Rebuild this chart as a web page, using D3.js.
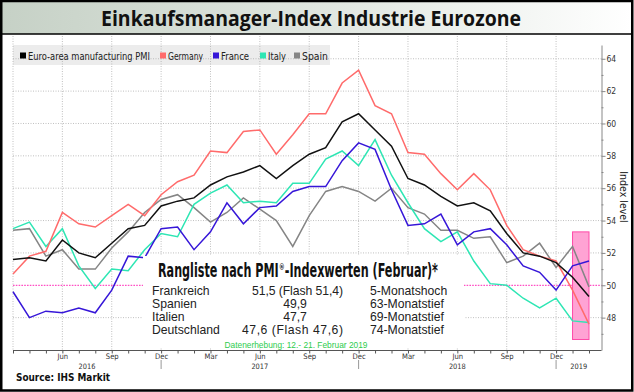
<!DOCTYPE html>
<html><head><meta charset="utf-8">
<script src="https://cdn.jsdelivr.net/npm/d3@7"></script>
<style>body{margin:0;background:#fff}svg{display:block}</style>
</head><body><svg id="c" width="634" height="392"></svg>
<script>
// ---------- DATA ----------
const months = ["2016-03","2016-04","2016-05","2016-06","2016-07","2016-08","2016-09","2016-10","2016-11","2016-12",
"2017-01","2017-02","2017-03","2017-04","2017-05","2017-06","2017-07","2017-08","2017-09","2017-10","2017-11","2017-12",
"2018-01","2018-02","2018-03","2018-04","2018-05","2018-06","2018-07","2018-08","2018-09","2018-10","2018-11","2018-12",
"2019-01","2019-02"];
const seriesNames = ["Euro-area manufacturing PMI","Germany","France","Italy","Spain"];
const euroArea = [51.6,51.7,51.5,52.8,52.0,51.7,52.6,53.5,53.7,54.9,55.2,55.4,56.2,56.7,57.0,57.4,56.6,57.4,58.1,58.5,60.1,60.6,59.6,58.6,56.6,56.2,55.5,54.9,55.1,54.6,53.2,52.0,51.8,51.4,50.5,49.3];
const germany  = [50.7,51.8,52.1,54.5,53.8,53.6,54.3,55.0,54.3,55.6,56.4,56.8,58.3,58.2,59.5,59.6,58.1,59.3,60.6,60.6,62.5,63.3,61.1,60.6,58.2,58.1,56.9,55.9,56.9,55.9,53.7,52.2,51.8,51.5,49.7,47.6];
const france   = [49.6,48.0,48.4,48.3,48.6,48.3,49.7,51.8,51.7,53.5,53.6,52.2,53.3,55.1,53.8,54.8,54.9,55.8,56.1,56.1,57.7,58.8,58.4,55.9,53.7,53.8,54.4,52.5,53.3,53.5,52.5,51.2,50.8,49.7,51.2,51.5];
const italy    = [53.5,53.9,52.4,53.5,51.2,49.8,51.0,50.9,52.2,53.2,53.0,55.0,55.7,56.2,55.1,55.2,55.1,56.3,56.3,57.8,58.3,57.4,59.0,56.8,55.1,53.5,52.7,53.3,51.5,50.1,50.0,49.2,48.6,49.2,47.8,47.7];
const spain    = [53.4,53.5,51.8,52.2,51.0,51.0,52.3,53.3,54.5,55.3,55.6,54.8,53.9,54.5,55.4,54.7,54.0,52.4,54.3,55.8,56.1,55.8,55.2,56.0,54.8,54.4,53.4,53.4,52.9,53.0,51.4,51.8,52.6,51.1,52.4,49.9];
const tickMonths = ["2016-06","2016-09","2016-12","2017-03","2017-06","2017-09","2017-12","2018-03","2018-06","2018-09","2018-12"];
const tickLabels = ["Jun","Sep","Dec","Mar","Jun","Sep","Dec","Mar","Jun","Sep","Dec"];
const yearLabels = ["2016","2017","2018","2019"];
const yTicks = [48,50,52,54,56,58,60,62,64];
const rankCountries = ["Frankreich","Spanien","Italien","Deutschland"];
const rankValues = ["51,5 (Flash 51,4)","49,9","47,7","47,6 (Flash 47,6)"];
const rankNotes = ["5-Monatshoch","63-Monatstief","69-Monatstief","74-Monatstief"];

// ---------- STYLE ----------
const colors = ["#111111","#ff6b6b","#3616d8","#2ee6b4","#858585"];
const seriesData = [euroArea, germany, france, italy, spain];
const narrow = "'Liberation Sans Narrow','DejaVu Sans Condensed','Roboto',sans-serif";

const svg = d3.select("#c");
const L = 13, R = 601.5, B = 350.5;
const x = d3.scalePoint().domain(months).range([13, 589]);
const y = d3.scaleLinear().domain([46, 64.85]).range([350, 45]);

// title band
const defs = svg.append("defs");
const g = defs.append("linearGradient").attr("id","tg").attr("x1","0").attr("x2","1");
g.append("stop").attr("offset","0").attr("stop-color","#c6d1c6");
g.append("stop").attr("offset","0.55").attr("stop-color","#e2e8e2");
g.append("stop").attr("offset","1").attr("stop-color","#ffffff");
svg.append("rect").attr("x",1).attr("y",1).attr("width",631).attr("height",33).attr("fill","url(#tg)");
svg.append("line").attr("x1",1).attr("x2",632).attr("y1",34).attr("y2",34).attr("stroke","#000").attr("stroke-width",1.5);
svg.append("text").attr("x",311).attr("y",26).attr("text-anchor","middle")
  .attr("font-family","'Open Sans',sans-serif").attr("font-weight","bold").attr("font-size",21)
  .attr("textLength",420).attr("lengthAdjust","spacingAndGlyphs").attr("fill","#111")
  .text("Einkaufsmanager-Index Industrie Eurozone");

// legend background
svg.append("rect").attr("x",13).attr("y",45).attr("width",317).attr("height",20).attr("fill","#ececec");

// gridlines
const grid = svg.append("g").attr("stroke","#b0b0b0").attr("stroke-width",0.8).attr("stroke-dasharray","1,1.5");
grid.selectAll(".h").data(yTicks.filter(d=>d!==50)).join("line")
  .attr("x1",L).attr("x2",R).attr("y1",d=>y(d)).attr("y2",d=>y(d));
const vMonths = ["2016-03"].concat(tickMonths);
grid.selectAll(".v").data(vMonths).join("line")
  .attr("x1",d=>x(d)).attr("x2",d=>x(d)).attr("y1",36).attr("y2",B);

// pink 50 line
svg.append("line").attr("x1",L).attr("x2",R).attr("y1",y(50)).attr("y2",y(50))
  .attr("stroke","#ff4fc4").attr("stroke-width",1.2).attr("stroke-dasharray","1.6,1.2");

// highlight box
svg.append("rect").attr("x",x("2019-01")).attr("y",y(53.3))
  .attr("width",x("2019-02")-x("2019-01")).attr("height",y(46.65)-y(53.3))
  .attr("fill","#ffa3d4").attr("stroke","#ff4aa8").attr("stroke-width",1);

// lines
const line = d3.line().x((d,i)=>x(months[i])).y(d=>y(d));
[4,3,1,2,0].forEach(k=>{
  svg.append("path").datum(seriesData[k]).attr("d",line).attr("fill","none")
    .attr("stroke",colors[k]).attr("stroke-width",1.5).attr("stroke-linejoin","miter");
});

// legend
const legX = [20,160,213,260,294];
const legW = [122,35,28,18,26];
seriesNames.forEach((n,i)=>{
  svg.append("rect").attr("x",legX[i]).attr("y",52.5).attr("width",6).attr("height",6).attr("fill",colors[i]==="#111111"?"#000":colors[i]);
  svg.append("text").attr("x",legX[i]+8).attr("y",59.5).attr("font-family",narrow).attr("font-size",10.5)
    .attr("textLength",legW[i]).attr("lengthAdjust","spacingAndGlyphs").attr("fill","#222").text(n);
});

// text box
svg.append("rect").attr("x",143).attr("y",256).attr("width",321).attr("height",92).attr("fill","#fff");
const hg = svg.append("g");
const hs = {"font-family":narrow,"font-weight":"bold","fill":"#111"};
const p1 = hg.append("text").attr("x",0).attr("y",0).attr("font-size",19).text("Rangliste nach PMI");
const p2 = hg.append("text").attr("y",-7.5).attr("font-size",9.5).text("®");
const p3 = hg.append("text").attr("y",0).attr("font-size",19).text("-Indexwerten (Februar)*");
[p1,p2,p3].forEach(t=>{Object.entries(hs).forEach(([k,v])=>t.attr(k,v));});
const w1 = p1.node().getComputedTextLength();
const w2 = p2.node().getComputedTextLength();
const w3 = p3.node().getComputedTextLength();
p2.attr("x", w1 + 0.3);
p3.attr("x", w1 + w2 + 0.6);
const totalW = w1 + w2 + w3 + 0.6;
hg.attr("transform",`translate(158,277) scale(${280/totalW},1)`);

const rowY = [294.5,307.8,321,334.3];
const valX = [297.5,295,295,292.5];
const valW = [91,null,null,101];
rankCountries.forEach((c,i)=>{
  const f = "'Liberation Sans',Arial,sans-serif";
  svg.append("text").attr("x",152).attr("y",rowY[i]).attr("font-family",f).attr("font-size",12.2).attr("fill","#222").text(c);
  const t = svg.append("text").attr("x",valX[i]).attr("y",rowY[i]).attr("text-anchor","middle").attr("font-family",f).attr("font-size",12.2).attr("fill","#222").text(rankValues[i]);
  if (valW[i]) t.attr("textLength",valW[i]).attr("lengthAdjust","spacing");
  svg.append("text").attr("x",370).attr("y",rowY[i]).attr("font-family",f).attr("font-size",12.2).attr("fill","#222").text(rankNotes[i]);
});
svg.append("text").attr("x",296).attr("y",347.5).attr("text-anchor","middle")
  .attr("font-family","'Liberation Sans',Arial,sans-serif").attr("font-size",9.6).attr("fill","#2ecc4e")
  .attr("textLength",143).attr("lengthAdjust","spacingAndGlyphs")
  .text("Datenerhebung: 12.- 21. Februar 2019");

// right axis
const yAxis = d3.axisRight(y).tickValues(d3.range(47,65)).tickSizeOuter(0)
  .tickSize(0).tickFormat(d=> d%2===0 ? d : "");
const ya = svg.append("g").attr("transform",`translate(${R},0)`).call(yAxis);
ya.select(".domain").attr("stroke","#888");
ya.selectAll(".tick line").attr("x2",d=>d%2===0?4:2).attr("stroke","#888");
ya.selectAll(".tick text").attr("x",5).attr("font-family",narrow).attr("font-size",8.5).attr("fill","#333");
svg.append("text").attr("transform","translate(620,197) rotate(90)").attr("text-anchor","middle")
  .attr("font-family",narrow).attr("font-size",10.5).attr("fill","#222").text("Index level");

// bottom axis
const labelMap = new Map(tickMonths.map((m,i)=>[m,tickLabels[i]]));
const xAxis = d3.axisBottom(x).tickValues(months).tickSizeOuter(0).tickSize(3)
  .tickFormat(d=>labelMap.get(d)||"");
const xa = svg.append("g").attr("transform",`translate(0,${B})`).call(xAxis);
xa.select(".domain").attr("stroke","#555").attr("d",`M${L},0H${R}`);
xa.selectAll(".tick line").attr("stroke","#555");
xa.selectAll(".tick text").attr("y",8.6).attr("dy",0).attr("font-family",narrow).attr("font-size",7.6).attr("fill","#333");

// year separators and labels
const seps = ["2016-12","2017-12","2018-12"];
svg.selectAll(".sep").data(seps).join("line")
  .attr("x1",d=>x(d)).attr("x2",d=>x(d)).attr("y1",360).attr("y2",369).attr("stroke","#999").attr("stroke-width",1);
const bounds = [L, x(seps[0]), x(seps[1]), x(seps[2]), R];
yearLabels.forEach((yl,i)=>{
  svg.append("text").attr("x",(bounds[i]+bounds[i+1])/2).attr("y",369.2).attr("text-anchor","middle")
    .attr("font-family",narrow).attr("font-size",7.4).attr("fill","#333").text(yl);
});

// source
svg.append("text").attr("x",16).attr("y",381).attr("font-family","'DejaVu Sans',sans-serif")
  .attr("font-weight","bold").attr("font-size",10.5).attr("fill","#111")
  .attr("textLength",94).attr("lengthAdjust","spacingAndGlyphs").text("Source: IHS Markit");

// outer frame
svg.append("rect").attr("x",1.25).attr("y",1).attr("width",631).attr("height",389.5)
  .attr("fill","none").attr("stroke","#000").attr("stroke-width",2.5);
</script></body></html>
